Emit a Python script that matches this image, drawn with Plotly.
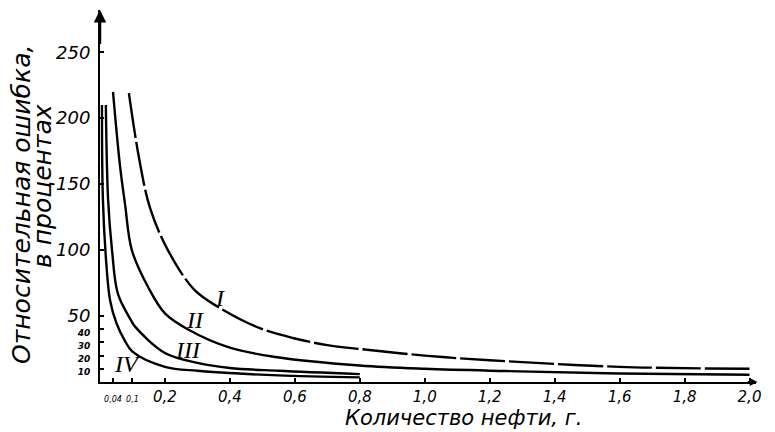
import plotly.graph_objects as go

# Curve data (x: oil quantity, g; y: relative error, %)
x_I = [0.089, 0.12, 0.154, 0.209, 0.29, 0.363, 0.49, 0.6, 0.7, 0.8, 1.0, 1.2, 1.6, 2.0]
y_I = [219, 170, 132, 100, 70, 57, 41, 33, 28, 25, 20, 16.5, 11.5, 10]

x_II = [0.04, 0.062, 0.077, 0.098, 0.148, 0.2, 0.27, 0.4, 0.54, 0.8, 1.0, 1.25, 1.6, 2.0]
y_II = [220, 163, 135, 100, 72, 52, 40, 26, 19, 12.5, 10, 8.3, 6.5, 5.5]

x_III = [0.018, 0.025, 0.037, 0.055, 0.095, 0.108, 0.2, 0.3, 0.4, 0.55, 0.8]
y_III = [210, 138, 100, 67, 47, 42, 22, 14.5, 10.6, 8.5, 6]

x_IV = [0.006, 0.009, 0.02, 0.031, 0.05, 0.075, 0.1, 0.2, 0.3, 0.4, 0.55, 0.8]
y_IV = [210, 138, 88, 62, 45, 32, 23, 11.5, 8.5, 6.8, 5, 3.5]

curve_names = ["I", "II", "III", "IV"]

y_tickvals = [10, 20, 30, 40, 50, 100, 150, 200, 250]
y_ticktext = ["10", "20", "30", "40", "50", "100", "150", "200", "250"]
x_tickvals = [0.04, 0.1, 0.2, 0.4, 0.6, 0.8, 1.0, 1.2, 1.4, 1.6, 1.8, 2.0]
x_ticktext = ["0,04", "0,1", "0,2", "0,4", "0,6", "0,8", "1,0", "1,2", "1,4", "1,6", "1,8", "2,0"]

label_pos = {"I": (0.369, 64), "II": (0.292, 47), "III": (0.271, 24), "IV": (0.083, 13.6)}

FONT = "DejaVu Sans"

def fmt_y(t, v):
    if v < 50:
        return f"<b><i><span style='font-size:9px'>{t}</span></i></b>"
    return f"<i>{t}</i>"

def fmt_x(t, v):
    if v < 0.2:
        return f"<i><span style='font-size:8px'>{t}</span></i>"
    return f"<i>{t}</i>"

fig = go.Figure()
series = [(x_I, y_I, "45px,4px"), (x_II, y_II, "solid"), (x_III, y_III, "solid"), (x_IV, y_IV, "solid")]
for (xs, ys, dash), name in zip(series, curve_names):
    fig.add_trace(go.Scatter(x=xs, y=ys, mode="lines", name=name,
                             line=dict(color="black", width=2.4, shape="spline", dash=dash),
                             showlegend=False, hoverinfo="skip"))

annotations = []
for name in curve_names:
    lx, ly = label_pos[name]
    annotations.append(dict(x=lx, y=ly, xref="x", yref="y", text=f"<i>{name}</i>",
                            showarrow=False, font=dict(family="Liberation Serif", size=24, color="black")))

# axis arrows
annotations.append(dict(x=0, y=282, ax=0, ay=255, xref="x", yref="y", axref="x", ayref="y",
                        showarrow=True, arrowhead=2, arrowsize=1, arrowwidth=2.5, arrowcolor="black", text=""))
annotations.append(dict(x=2.025, y=0, ax=1.99, ay=0, xref="x", yref="y", axref="x", ayref="y",
                        showarrow=True, arrowhead=2, arrowsize=0.8, arrowwidth=2, arrowcolor="black", text=""))

# axis titles
annotations.append(dict(x=1.12, y=-0.098, xref="x", yref="paper", xanchor="center", yanchor="middle",
                        text="<i>Количество нефти, г.</i>",
                        showarrow=False, font=dict(family=FONT, size=21, color="black")))
annotations.append(dict(x=14, y=0.476, xref="paper", yref="paper", xanchor="center", yanchor="middle",
                        text="<i>Относительная ошибка,</i>", textangle=-90, showarrow=False,
                        font=dict(family=FONT, size=25, color="black")))
annotations.append(dict(x=35, y=0.527, xref="paper", yref="paper", xanchor="center", yanchor="middle",
                        text="<i>в процентах</i>", textangle=-90, showarrow=False,
                        font=dict(family=FONT, size=25, color="black")))

# convert pixel x positions for the two y-title lines into paper coordinates
L, R_ = 92, 18.5
W, H = 767, 424
plot_w = W - L - R_
for a in annotations[-2:]:
    a["x"] = (a["x"] - L) / plot_w

fig.update_layout(
    width=W, height=H,
    margin=dict(l=L, r=R_, t=2, b=50),
    paper_bgcolor="white", plot_bgcolor="white",
    font=dict(family=FONT, color="black"),
    annotations=annotations,
)
fig.update_xaxes(range=[0, 2.02], showgrid=False, zeroline=False, showline=True, linecolor="black",
                 linewidth=2, ticks="inside", ticklen=4, tickwidth=1.5, tickcolor="black",
                 tickvals=x_tickvals, ticktext=[fmt_x(t, v) for t, v in zip(x_ticktext, x_tickvals)],
                 tickfont=dict(family=FONT, size=15, color="black"), tickangle=0,
                 automargin=False, ticklabelstandoff=0)
fig.update_yaxes(range=[0, 282], showgrid=False, zeroline=False, showline=True, linecolor="black",
                 linewidth=2, ticks="inside", ticklen=4, tickwidth=1.5, tickcolor="black",
                 tickvals=y_tickvals, ticktext=[fmt_y(t, v) for t, v in zip(y_ticktext, y_tickvals)],
                 tickfont=dict(family=FONT, size=18, color="black"),
                 automargin=False, ticklabelstandoff=4)

fig.write_html("out.html")
